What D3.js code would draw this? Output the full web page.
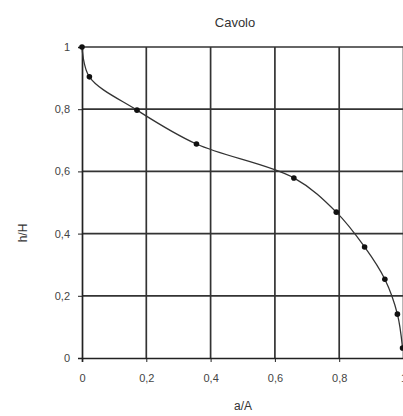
<!DOCTYPE html>
<html>
<head>
<meta charset="utf-8">
<script src="https://cdn.jsdelivr.net/npm/d3@7"></script>
<style>
  body { margin: 0; background: #fff; }
  svg { display: block; font-family: "Liberation Sans", Arial, sans-serif; }
  .grid line { stroke: #333; stroke-width: 1.7; }
  .axis path, .axis line { stroke: #222; }
  .axis text { fill: #444; font-size: 11px; }
</style>
</head>
<body>
<svg id="chart"></svg>
<script>
  var width = 403, height = 416;
  var margin = {left: 82, right: 0, top: 47, bottom: 58};

  // data
  var aA = [0, 0.023, 0.171, 0.356, 0.659, 0.791, 0.879, 0.942, 0.981, 0.997];
  var hH = [1, 0.904, 0.797, 0.688, 0.579, 0.469, 0.357, 0.253, 0.141, 0.032];
  var xTicks = [0, 0.2, 0.4, 0.6, 0.8, 1];
  var yTicks = [0, 0.2, 0.4, 0.6, 0.8, 1];
  var tickLabels = ["0", "0,2", "0,4", "0,6", "0,8", "1"];

  var pts = aA.map((d, i) => ({x: d, y: hH[i]}));

  var svg = d3.select("#chart").attr("width", width).attr("height", height);

  var x = d3.scaleLinear().domain([0, 1]).range([margin.left, width + 0.5]);
  var y = d3.scaleLinear().domain([0, 1]).range([height - margin.bottom, margin.top]);

  // grid
  var grid = svg.append("g").attr("class", "grid");
  grid.selectAll("line.v").data(xTicks.slice(1)).enter().append("line")
    .attr("x1", d => x(d)).attr("x2", d => x(d))
    .attr("y1", y(0)).attr("y2", y(1));
  grid.selectAll("line.h").data(yTicks.slice(1)).enter().append("line")
    .attr("x1", x(0)).attr("x2", x(1))
    .attr("y1", d => y(d)).attr("y2", d => y(d));

  // axes
  svg.append("g").attr("class", "axis")
    .attr("transform", "translate(0," + y(0) + ")")
    .call(d3.axisBottom(x).tickValues(xTicks).tickSize(4).tickPadding(12)
      .tickFormat((d, i) => tickLabels[i]));
  svg.append("g").attr("class", "axis")
    .attr("transform", "translate(" + x(0) + ",0)")
    .call(d3.axisLeft(y).tickValues(yTicks).tickSize(4).tickPadding(8)
      .tickFormat((d, i) => tickLabels[i]));
  svg.selectAll(".axis path").attr("stroke-width", 1.7);

  // curve
  var line = d3.line().x(d => x(d.x)).y(d => y(d.y)).curve(d3.curveCatmullRom.alpha(0.5));
  svg.append("path").datum(pts)
    .attr("d", line)
    .attr("fill", "none")
    .attr("stroke", "#333")
    .attr("stroke-width", 1.3);

  svg.selectAll("circle.pt").data(pts).enter().append("circle")
    .attr("cx", d => x(d.x)).attr("cy", d => y(d.y))
    .attr("r", 2.8)
    .attr("fill", "#111");

  // titles
  svg.append("text").attr("x", 235).attr("y", 27)
    .attr("text-anchor", "middle").attr("font-size", 13).attr("fill", "#333")
    .text("Cavolo");
  svg.append("text").attr("x", 243).attr("y", 410)
    .attr("text-anchor", "middle").attr("font-size", 12).attr("fill", "#333")
    .text("a/A");
  svg.append("text").attr("transform", "translate(27,233) rotate(-90)")
    .attr("text-anchor", "middle").attr("font-size", 12).attr("fill", "#333")
    .text("h/H");
</script>
</body>
</html>
